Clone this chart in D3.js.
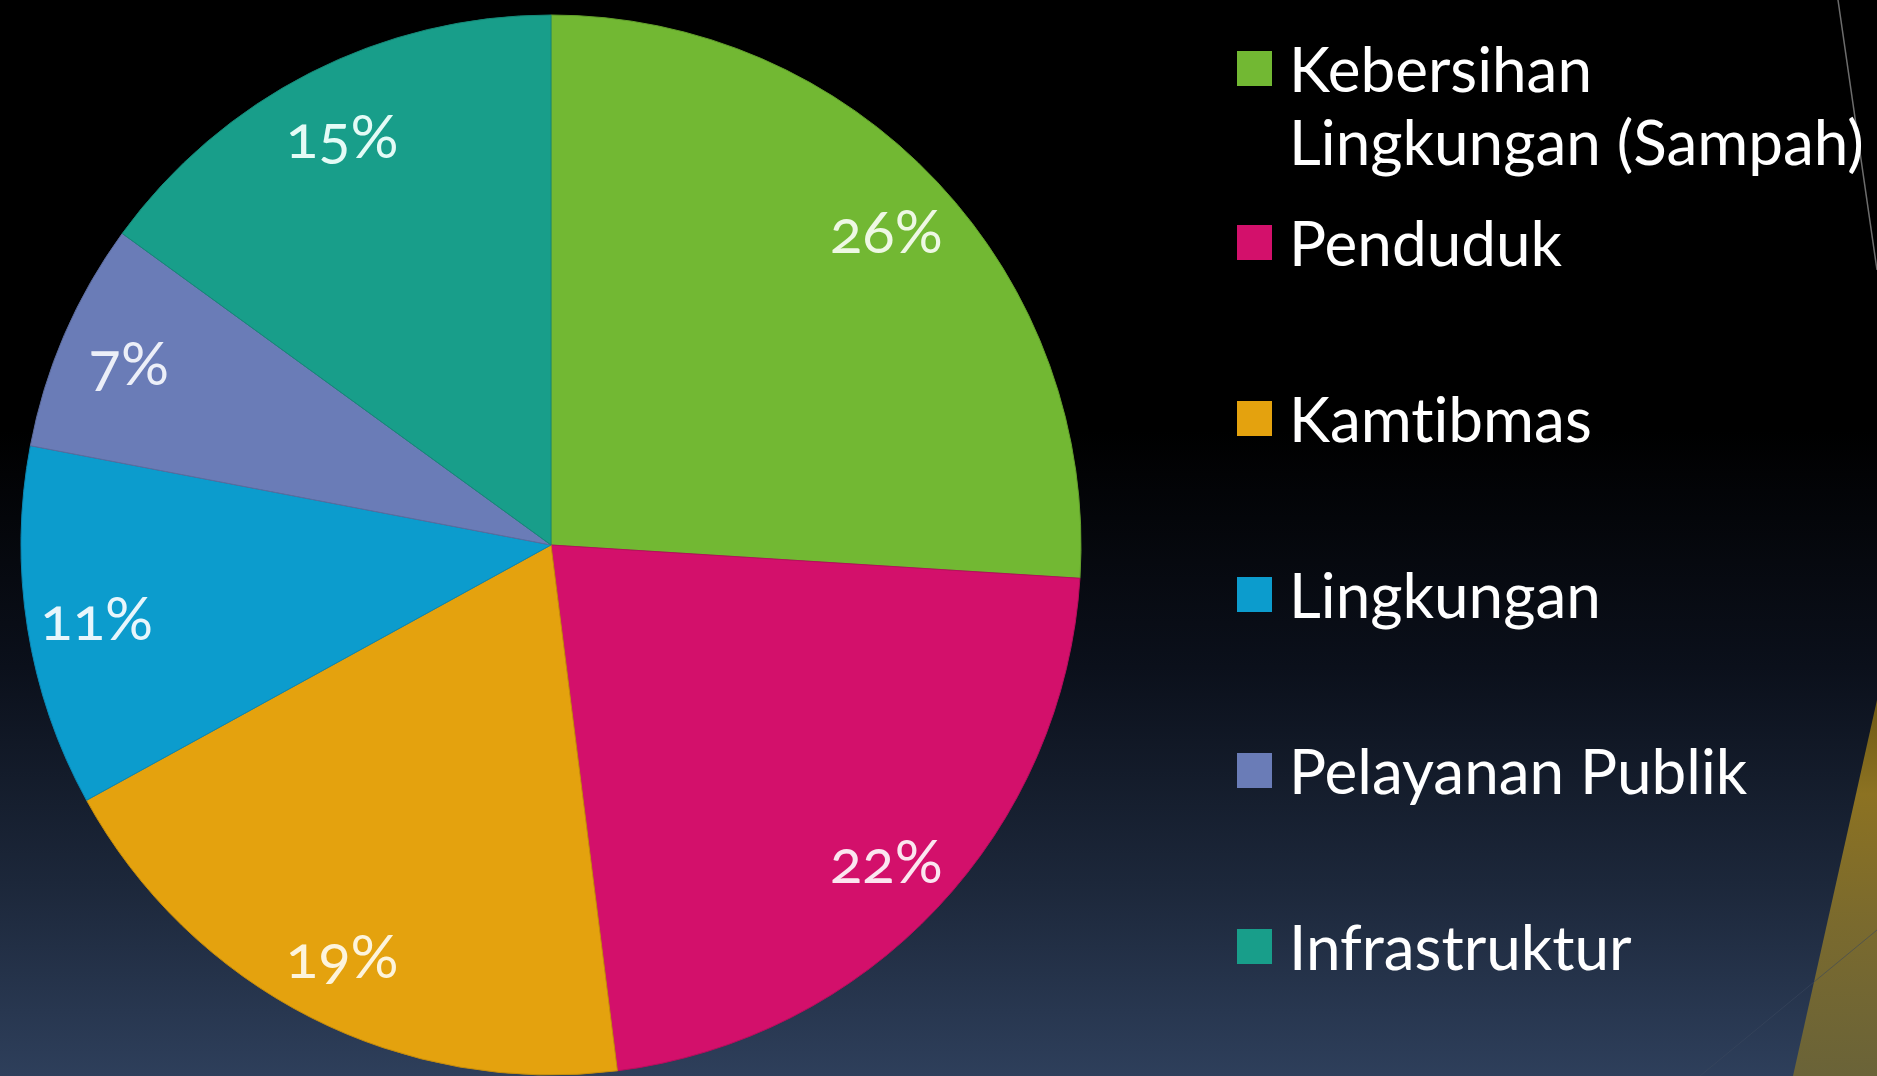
<!DOCTYPE html>
<html>
<head>
<meta charset="utf-8">
<script src="https://cdn.jsdelivr.net/npm/d3@7"></script>
<style>
  html, body { margin: 0; padding: 0; background: #000; overflow: hidden; }
  svg { display: block; }
  text { font-family: Lato, "Open Sans", sans-serif; font-variant-ligatures: none; }
</style>
</head>
<body>
<svg id="chart" width="1877" height="1076"></svg>
<script>
const categories = [
  "Kebersihan Lingkungan (Sampah)",
  "Penduduk",
  "Kamtibmas",
  "Lingkungan",
  "Pelayanan Publik",
  "Infrastruktur"
];
const values = [26, 22, 19, 11, 7, 15];
const colors = ["#72b833", "#d3106b", "#e4a20e", "#0c9ccd", "#6a7cb7", "#189e8a"];
const labelColors = ["#eef8e4", "#fbe6f0", "#fdf4dc", "#e8f6fc", "#eceff8", "#e4fbf6"];

const W = 1877, H = 1076;
const svg = d3.select("#chart");

// background gradient
const defs = svg.append("defs");
const bg = defs.append("linearGradient").attr("id", "bg")
  .attr("x1", 0).attr("y1", 0).attr("x2", 0).attr("y2", 1);
[[0, "#000000"], [0.40, "#000000"], [0.62, "#0b101b"], [0.82, "#1c273a"], [1, "#2e3f5b"]]
  .forEach(([o, c]) => bg.append("stop").attr("offset", o).attr("stop-color", c));
svg.append("rect").attr("width", W).attr("height", H).attr("fill", "url(#bg)");

// decorative shapes on the right edge
const gold = defs.append("linearGradient").attr("id", "gold")
  .attr("x1", 0).attr("y1", 0).attr("x2", 0).attr("y2", 1);
[[0, "#6e5a14"], [0.25, "#8c7222"], [0.6, "#7a6a2e"], [1, "#6a6338"]]
  .forEach(([o, c]) => gold.append("stop").attr("offset", o).attr("stop-color", c));
const line = d3.line();
svg.append("path")
  .attr("d", line([[1877, 700], [1793, 1076], [1877, 1076]]) + "Z")
  .attr("fill", "url(#gold)");
svg.append("path")
  .attr("d", line([[1838, 0], [1877, 270]]))
  .attr("stroke", "#6d6d6d").attr("stroke-width", 1.5).attr("fill", "none");
svg.append("path")
  .attr("d", line([[1700, 1076], [1877, 930]]))
  .attr("stroke", "#3a475e").attr("stroke-width", 1).attr("fill", "none").attr("opacity", 0.6);

// pie
const cx = 551, cy = 545, R = 530;
const pie = d3.pie().sort(null).value(d => d.value);
const arcs = pie(categories.map((c, i) => ({ name: c, value: values[i], i })));
const arc = d3.arc().innerRadius(0).outerRadius(R);
const labelArc = d3.arc().innerRadius(460).outerRadius(460);

const g = svg.append("g").attr("transform", `translate(${cx},${cy})`);
g.selectAll("path.slice").data(arcs).join("path")
  .attr("class", "slice")
  .attr("d", arc)
  .attr("fill", d => colors[d.data.i])
  .attr("stroke", d => d3.color(colors[d.data.i]).darker(0.4))
  .attr("stroke-width", 1);

const total = d3.sum(values);
g.selectAll("text.lbl").data(arcs).join("text")
  .attr("class", "lbl")
  .attr("transform", d => `translate(${labelArc.centroid(d)})`)
  .attr("text-anchor", "middle")
  .attr("dominant-baseline", "central")
  .style("font-size", "60px")
  .style("font-variant-numeric", "oldstyle-nums")
  .attr("fill", d => labelColors[d.data.i])
  .text(d => Math.round(d.data.value / total * 100) + "%");

// legend
const lx = 1237, tx = 1289, sq = 35, lineH = 73;
const legendY = d3.scaleLinear().domain([1, 5]).range([266, 970]);
const baselines = categories.map((c, i) => i === 0 ? 92 : legendY(i));
const leg = svg.append("g");
const maxW = 600;
categories.forEach((c, i) => {
  const t = leg.append("text")
    .attr("x", tx).attr("y", baselines[i])
    .attr("fill", "#ffffff")
    .style("font-size", "62px");
  // greedy word wrap
  const words = c.split(" ");
  let lines = [], cur = "";
  const meas = leg.append("text").style("font-size", "62px").attr("opacity", 0);
  words.forEach(w => {
    const test = cur ? cur + " " + w : w;
    meas.text(test);
    if (meas.node().getComputedTextLength() > maxW && cur) { lines.push(cur); cur = w; }
    else cur = test;
  });
  lines.push(cur);
  meas.remove();
  lines.forEach((l, k) => t.append("tspan").attr("x", tx).attr("dy", k === 0 ? 0 : lineH).text(l));
  leg.append("rect")
    .attr("x", lx).attr("y", baselines[i] - 41)
    .attr("width", sq).attr("height", sq)
    .attr("fill", colors[i]);
});
</script>
</body>
</html>
